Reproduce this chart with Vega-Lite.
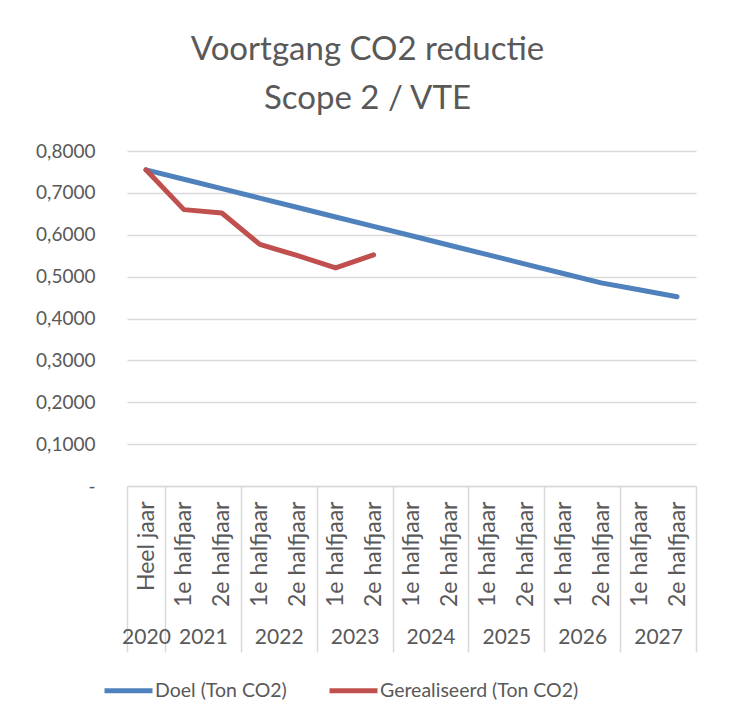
{
  "$schema": "https://vega.github.io/schema/vega-lite/v6.json",
  "width": 569,
  "height": 335,
  "autosize": {"type": "none"},
  "padding": {"left": 127, "top": 151, "right": 36, "bottom": 238},
  "background": "white",
  "title": {
    "text": ["Voortgang CO2 reductie", "Scope 2 / VTE"],
    "font": "Lato",
    "fontSize": 33,
    "fontWeight": "normal",
    "color": "#595959",
    "anchor": "middle",
    "frame": "group",
    "dx": -44,
    "offset": 26,
    "lineHeight": 49
  },
  "data": {
    "values": [
      {"idx": 0, "jaar": 2020, "periode": "Heel jaar", "series": "Doel (Ton CO2)", "value": 0.755},
      {"idx": 1, "jaar": 2021, "periode": "1e halfjaar", "series": "Doel (Ton CO2)", "value": 0.7325},
      {"idx": 2, "jaar": 2021, "periode": "2e halfjaar", "series": "Doel (Ton CO2)", "value": 0.71},
      {"idx": 3, "jaar": 2022, "periode": "1e halfjaar", "series": "Doel (Ton CO2)", "value": 0.6875},
      {"idx": 4, "jaar": 2022, "periode": "2e halfjaar", "series": "Doel (Ton CO2)", "value": 0.665},
      {"idx": 5, "jaar": 2023, "periode": "1e halfjaar", "series": "Doel (Ton CO2)", "value": 0.6425},
      {"idx": 6, "jaar": 2023, "periode": "2e halfjaar", "series": "Doel (Ton CO2)", "value": 0.62},
      {"idx": 7, "jaar": 2024, "periode": "1e halfjaar", "series": "Doel (Ton CO2)", "value": 0.5975},
      {"idx": 8, "jaar": 2024, "periode": "2e halfjaar", "series": "Doel (Ton CO2)", "value": 0.575},
      {"idx": 9, "jaar": 2025, "periode": "1e halfjaar", "series": "Doel (Ton CO2)", "value": 0.5525},
      {"idx": 10, "jaar": 2025, "periode": "2e halfjaar", "series": "Doel (Ton CO2)", "value": 0.53},
      {"idx": 11, "jaar": 2026, "periode": "1e halfjaar", "series": "Doel (Ton CO2)", "value": 0.5075},
      {"idx": 12, "jaar": 2026, "periode": "2e halfjaar", "series": "Doel (Ton CO2)", "value": 0.485},
      {"idx": 13, "jaar": 2027, "periode": "1e halfjaar", "series": "Doel (Ton CO2)", "value": 0.4685},
      {"idx": 14, "jaar": 2027, "periode": "2e halfjaar", "series": "Doel (Ton CO2)", "value": 0.452},
      {"idx": 0, "jaar": 2020, "periode": "Heel jaar", "series": "Gerealiseerd (Ton CO2)", "value": 0.755},
      {"idx": 1, "jaar": 2021, "periode": "1e halfjaar", "series": "Gerealiseerd (Ton CO2)", "value": 0.66},
      {"idx": 2, "jaar": 2021, "periode": "2e halfjaar", "series": "Gerealiseerd (Ton CO2)", "value": 0.652},
      {"idx": 3, "jaar": 2022, "periode": "1e halfjaar", "series": "Gerealiseerd (Ton CO2)", "value": 0.577},
      {"idx": 4, "jaar": 2022, "periode": "2e halfjaar", "series": "Gerealiseerd (Ton CO2)", "value": 0.55},
      {"idx": 5, "jaar": 2023, "periode": "1e halfjaar", "series": "Gerealiseerd (Ton CO2)", "value": 0.521},
      {"idx": 6, "jaar": 2023, "periode": "2e halfjaar", "series": "Gerealiseerd (Ton CO2)", "value": 0.552}
    ]
  },
  "encoding": {
    "y": {
      "field": "value",
      "type": "quantitative",
      "scale": {"domain": [0, 0.8], "nice": false, "zero": true},
      "axis": {
        "values": [0, 0.1, 0.2, 0.3, 0.4, 0.5, 0.6, 0.7, 0.8],
        "labelExpr": "datum.value == 0 ? '-   ' : replace(format(datum.value, '.4f'), '.', ',')",
        "grid": true,
        "gridColor": "#d9d9d9",
        "gridWidth": 1.5,
        "domain": false,
        "ticks": false,
        "labelPadding": 32,
        "labelFont": "Lato",
        "labelFontSize": 19,
        "labelColor": "#595959",
        "title": null
      }
    },
    "color": {
      "field": "series",
      "type": "nominal",
      "scale": {
        "domain": ["Doel (Ton CO2)", "Gerealiseerd (Ton CO2)"],
        "range": ["#4F81BD", "#C0504D"]
      },
      "legend": {
        "title": null,
        "orient": "none",
        "direction": "horizontal",
        "legendX": -25,
        "legendY": 513,
        "symbolType": "stroke",
        "symbolStrokeWidth": 5,
        "symbolSize": 2304,
        "labelFont": "Lato",
        "labelFontSize": 19.5,
        "labelColor": "#595959",
        "labelOffset": 0,
        "labelLimit": 0,
        "columnPadding": 32
      }
    }
  },
  "layer": [
    {
      "transform": [{"filter": "datum.series == 'Doel (Ton CO2)'"}],
      "mark": {"type": "line", "strokeWidth": 5, "strokeCap": "round", "strokeJoin": "round"},
      "encoding": {
        "x": {
          "field": "idx",
          "type": "quantitative",
          "scale": {"domain": [-0.5, 14.5], "nice": false, "zero": false},
          "axis": {
            "orient": "bottom",
            "values": [-0.5, 0.5, 1.5, 2.5, 3.5, 4.5, 5.5, 6.5, 7.5, 8.5, 9.5, 10.5, 11.5, 12.5, 13.5, 14.5],
            "labelExpr": "datum.value + 0.5 == 0 ? 'Heel jaar' : (datum.value + 0.5 >= 15 ? '' : ((datum.value + 0.5) % 2 == 1 ? '1e halfjaar' : '2e halfjaar'))",
            "labelAngle": -90,
            "labelAlign": "right",
            "labelBaseline": "middle",
            "labelOffset": 19,
            "labelPadding": -151,
            "tickSize": 166,
            "tickColor": "#d9d9d9",
            "tickWidth": 1.5,
            "tickOpacity": {"condition": {"test": "datum.value < 1 || (datum.value - 0.5) % 2 == 0", "value": 1}, "value": 0},
            "domainColor": "#d9d9d9",
            "domainWidth": 1.5,
            "grid": false,
            "title": null,
            "labelFont": "Lato",
            "labelFontSize": 23,
            "labelColor": "#595959",
            "labelFlush": false,
            "labelOverlap": false,
            "labelBound": false,
            "labelLimit": 0
          }
        }
      }
    },
    {
      "transform": [{"filter": "datum.series == 'Gerealiseerd (Ton CO2)'"}],
      "mark": {"type": "line", "strokeWidth": 5, "strokeCap": "round", "strokeJoin": "round"},
      "encoding": {
        "x": {
          "field": "idx",
          "type": "quantitative",
          "scale": {"domain": [-0.5, 14.5], "nice": false, "zero": false},
          "axis": {
            "orient": "bottom",
            "values": [0, 1.5, 3.5, 5.5, 7.5, 9.5, 11.5, 13.5],
            "labelExpr": "datum.value == 0 ? '2020' : '' + (2021 + floor(datum.value / 2))",
            "labelAngle": 0,
            "labelAlign": "center",
            "labelBaseline": "middle",
            "labelPadding": 151,
            "ticks": false,
            "domain": false,
            "grid": false,
            "title": null,
            "labelFont": "Lato",
            "labelFontSize": 21,
            "labelColor": "#595959",
            "labelFlush": false,
            "labelOverlap": false,
            "labelBound": false
          }
        }
      }
    }
  ],
  "resolve": {"axis": {"x": "independent"}},
  "config": {"view": {"stroke": null}, "font": "Lato"}
}
